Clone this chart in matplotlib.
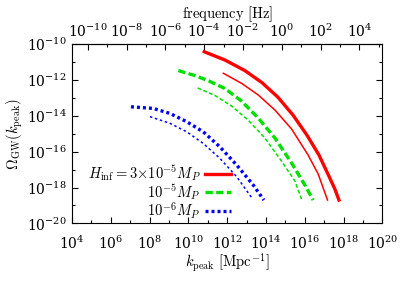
import matplotlib
matplotlib.use("Agg")
import matplotlib.pyplot as plt
from matplotlib.ticker import LogLocator, FixedLocator, LogFormatterMathtext, NullFormatter
import numpy as np

# log10(k_peak [Mpc^-1]) and log10(Omega_GW)
red_thick_k = [10.82, 11.88, 12.91, 13.79, 14.61, 15.39, 16.11, 16.73, 17.24, 17.55, 17.76]
red_thick_om = [-10.43, -10.89, -11.48, -12.15, -12.96, -13.96, -15.08, -16.19, -17.36, -18.09, -18.70]
red_thin_k = [11.80, 12.74, 13.60, 14.46, 15.32, 16.17, 16.69, 17.17]
red_thin_om = [-11.63, -12.19, -12.84, -13.68, -14.74, -16.19, -17.25, -18.70]

green_thick_k = [9.48, 10.34, 11.02, 11.88, 12.74, 13.60, 14.46, 15.32, 16.00, 16.43]
green_thick_om = [-11.48, -11.76, -12.04, -12.48, -13.18, -14.13, -15.24, -16.64, -17.86, -18.70]
green_thin_k = [10.48, 11.37, 12.23, 13.08, 13.94, 14.80, 15.49, 15.85]
green_thin_om = [-12.45, -12.87, -13.46, -14.24, -15.24, -16.53, -17.64, -18.70]

blue_thick_k = [7.04, 8.19, 9.05, 9.91, 10.76, 11.62, 12.49, 13.34, 13.89]
blue_thick_om = [-13.50, -13.59, -13.87, -14.33, -14.89, -15.73, -16.75, -17.86, -18.70]
blue_thin_k = [8.02, 9.05, 9.91, 10.76, 11.62, 12.49, 13.31]
blue_thin_om = [-14.05, -14.42, -14.89, -15.54, -16.37, -17.40, -18.64]

labels = [r'$H_{\rm inf}=3{\times}10^{-5}M_P$', r'$10^{-5}M_P$', r'$10^{-6}M_P$']
freq_ticks = [1e-10, 1e-8, 1e-6, 1e-4, 1e-2, 1e0, 1e2, 1e4]

plt.rcParams['mathtext.fontset'] = 'cm'
plt.rcParams['font.family'] = 'serif'
plt.rcParams['font.serif'] = ['DejaVu Serif']

fig = plt.figure(figsize=(4.09, 2.86), dpi=100)
ax = fig.add_axes([0.176, 0.219, 0.759, 0.627])

p = lambda a: 10.0 ** np.array(a)

red, green, blue = '#ff0000', '#00e000', '#0000ff'
ax.plot(p(red_thick_k), p(red_thick_om), color=red, lw=2.4, label=labels[0])
ax.plot(p(red_thin_k), p(red_thin_om), color=red, lw=1.1)
ax.plot(p(green_thick_k), p(green_thick_om), color=green, lw=2.4, ls=(0, (2.2, 1.0)), label=labels[1])
ax.plot(p(green_thin_k), p(green_thin_om), color=green, lw=1.1, ls=(0, (2.5, 1.5)))
ax.plot(p(blue_thick_k), p(blue_thick_om), color=blue, lw=2.4, ls=(0, (0.9, 0.9)), label=labels[2])
ax.plot(p(blue_thin_k), p(blue_thin_om), color=blue, lw=1.1, ls=(0, (1.6, 1.8)))

ax.set_xscale('log')
ax.set_yscale('log')
ax.set_xlim(1e4, 1e20)
ax.set_ylim(1e-20, 1e-10)

ax.xaxis.set_major_locator(LogLocator(base=100.0, numticks=20))
ax.xaxis.set_minor_locator(LogLocator(base=10.0, numticks=30))
ax.xaxis.set_minor_formatter(NullFormatter())
ax.yaxis.set_major_locator(LogLocator(base=100.0, numticks=20))
ax.yaxis.set_minor_locator(LogLocator(base=10.0, numticks=30))
ax.yaxis.set_minor_formatter(NullFormatter())
ax.xaxis.set_major_formatter(LogFormatterMathtext())
ax.yaxis.set_major_formatter(LogFormatterMathtext())

ax.tick_params(which='both', direction='in', top=False, right=True, labelsize=10)
ax.tick_params(which='major', length=4, width=0.8)
ax.tick_params(which='minor', length=2.5, width=0.8)
ax.tick_params(axis='x', which='major', pad=8)
ax.tick_params(axis='y', which='major', pad=4)

ax.set_xlabel(r'$k_{\rm peak}\ [\mathrm{Mpc}^{-1}]$', fontsize=10.5, labelpad=0)
ax.set_ylabel(r'$\Omega_{\rm GW}(k_{\rm peak})$', fontsize=10.5, labelpad=1)

fconv = 1.546e-15
sec = ax.secondary_xaxis('top', functions=(lambda k: k * fconv, lambda f: f / fconv))
sec.xaxis.set_major_locator(FixedLocator(freq_ticks))
sec.xaxis.set_minor_locator(FixedLocator([10.0 ** e for e in range(-11, 6, 2)]))
sec.xaxis.set_minor_formatter(NullFormatter())
sec.xaxis.set_major_formatter(LogFormatterMathtext())
sec.tick_params(which='both', direction='in', labelsize=10)
sec.tick_params(which='major', length=4, width=0.8, pad=3)
sec.tick_params(which='minor', length=2.5, width=0.8)
sec.set_xlabel(r'$\mathrm{frequency\ [Hz]}$', fontsize=10.5, labelpad=3)

leg = ax.legend(loc='lower right', bbox_to_anchor=(0.512, 0.015), frameon=False, markerfirst=False,
                fontsize=10.5, handlelength=1.75, handletextpad=0.35, labelspacing=-0.1,
                borderaxespad=0.0, borderpad=0.0)
for t in leg.get_texts():
    t.set_ha('right')
leg._legend_box.align = 'right'

fig.savefig('out.png', dpi=100)
